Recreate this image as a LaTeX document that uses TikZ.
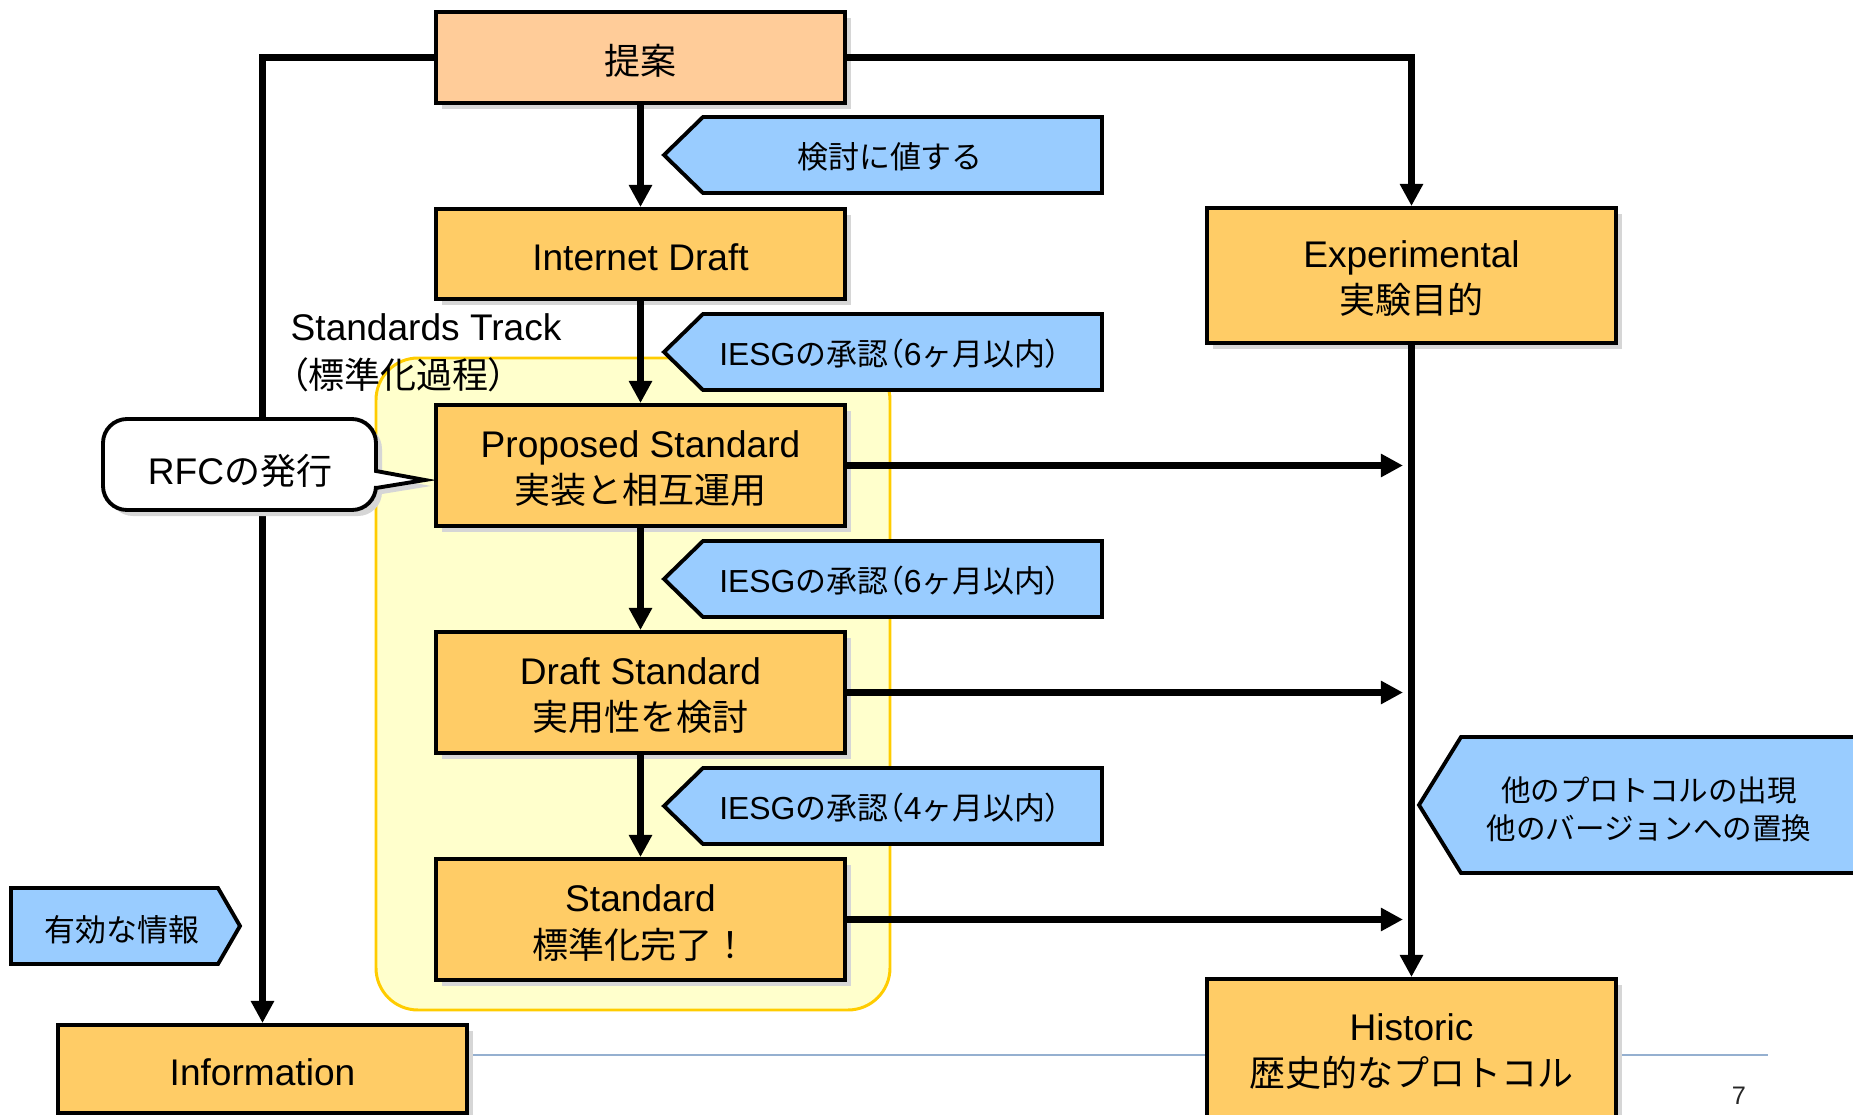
\documentclass[tikz,border=0pt]{standalone}
\usepackage{fontspec}
\setmainfont{Liberation Sans}[Scale=1.03]
\newfontfamily\jp{Noto Sans CJK JP}
\newfontfamily\jpp{Noto Sans CJK JP}[RawFeature=+palt]
\usetikzlibrary{arrows.meta,shadows}

\definecolor{boxor}{HTML}{FFCC66}
\definecolor{peach}{HTML}{FFCC99}
\definecolor{skyb}{HTML}{99CCFF}
\definecolor{paley}{HTML}{FFFFCC}
\definecolor{gold}{HTML}{FFCC00}
\definecolor{rulec}{HTML}{95B0D0}
\definecolor{shade}{HTML}{D6D6D6}

\newcommand{\boxfont}{\fontsize{10.24pt}{13.1pt}\selectfont}
\newcommand{\tagfont}{\fontsize{8.8pt}{10.8pt}\selectfont}
% proportional parentheses
\newcommand{\lp}{{\jpp （}}
\newcommand{\rp}{{\jpp ）}}

\tikzset{
  shade/.style={drop shadow={shadow xshift=0.06cm,shadow yshift=-0.06cm,fill=shade,opacity=1}},
  stagebox/.style={draw=black,line width=1.1pt,fill=boxor,shade,
    minimum width=4.09cm,inner sep=0pt},
  boxtext/.style={align=center,font=\boxfont,inner sep=0pt,yshift=-0.035cm},
  conn/.style={line width=1.85pt,-{Triangle[length=6.3pt,width=6.3pt]}},
  tag/.style={draw=black,line width=1.1pt,fill=skyb,line join=miter},
  tagtext/.style={align=center,font=\tagfont,inner sep=0pt,yshift=-0.02cm},
}

\begin{document}
\begin{tikzpicture}[x=0.01cm,y=-0.01cm]
\useasboundingbox (0,0) rectangle (1853,1115);

% standards track area
\draw[fill=paley,draw=gold,line width=0.85pt,rounded corners=0.42cm]
  (376,358) rectangle (890,1010);
\node[anchor=west,align=left,font=\fontsize{10.24pt}{13.66pt}\selectfont,inner sep=0pt]
  (track) at (290,353) {Standards Track\\\lp{\jp 標準化過程}\rp};

% footer rule and page number
\draw[rulec,line width=0.6pt] (470,1055) -- (1768,1055);
\node[font=\fontsize{7pt}{8pt}\selectfont,text=black!85] (pgno) at (1739,1096) {7};

% stages
\node[stagebox,fill=peach,minimum height=0.91cm] (prop) at (640.5,57.5) {};
\node[stagebox,minimum height=0.90cm] (idraft) at (640.5,254) {};
\node[stagebox,minimum height=1.21cm] (ps) at (640.5,465.5) {};
\node[stagebox,minimum height=1.21cm] (ds) at (640.5,692.5) {};
\node[stagebox,minimum height=1.21cm] (std) at (640.5,919.5) {};
\node[stagebox,minimum height=0.88cm] (info) at (262.5,1069) {};
\node[stagebox,minimum height=1.35cm] (exp) at (1411.5,275.5) {};
\node[stagebox,minimum height=1.38cm] (hist) at (1411.5,1048) {};

\node[boxtext] (propT) at (prop.center) {\jp 提案};
\node[boxtext] (idraftT) at (idraft.center) {Internet Draft};
\node[boxtext] (psT) at (ps.center) {Proposed Standard\\{\jp 実装と相互運用}};
\node[boxtext] (dsT) at (ds.center) {Draft Standard\\{\jp 実用性を検討}};
\node[boxtext] (stdT) at (std.center) {Standard\\{\jp 標準化完了！}};
\node[boxtext] (infoT) at (info.center) {Information};
\node[boxtext] (expT) at (exp.center) {Experimental\\{\jp 実験目的}};
\node[boxtext] (histT) at (hist.center) {Historic\\{\jp 歴史的なプロトコル}};

% connectors
\draw[conn] (prop.west) -| (info.north);
\draw[conn] (prop.east) -| (exp.north);
\draw[conn] (prop.south) -- (idraft.north);
\draw[conn] (idraft.south) -- (ps.north);
\draw[conn] (ps.south) -- (ds.north);
\draw[conn] (ds.south) -- (std.north);
\draw[conn] (exp.south) -- (hist.north);
\coordinate (e1) at (1403,465.5);
\coordinate (e2) at (1403,692.5);
\coordinate (e3) at (1403,919.5);
\draw[conn] (ps.east) -- (e1);
\draw[conn] (ds.east) -- (e2);
\draw[conn] (std.east) -- (e3);

% callout
\draw[draw=black,line width=1.1pt,fill=white,shade]
  (425,480) -- (376,471) [rounded corners=0.24cm] -- (376,419) -- (103,419)
  -- (103,510) -- (376,510) [sharp corners] -- (376,488) -- cycle;
\node[boxtext] (rfc) at (240,467) {RFC{\jp の発行}};

% condition tags
\draw[tag] (664,155) -- (703,117) -- (1102,117) -- (1102,193) -- (703,193) -- cycle;
\node[tagtext] (t0) at (890,155) {\jp 検討に値する};
\draw[tag] (664,352) -- (703,314) -- (1102,314) -- (1102,390) -- (703,390) -- cycle;
\node[tagtext] (t1) at (890,352) {IESG{\jp の承認}\lp 6{\jp ヶ月以内}\rp};
\draw[tag] (664,579) -- (703,541) -- (1102,541) -- (1102,617) -- (703,617) -- cycle;
\node[tagtext] (t2) at (890,579) {IESG{\jp の承認}\lp 6{\jp ヶ月以内}\rp};
\draw[tag] (664,806) -- (703,768) -- (1102,768) -- (1102,844) -- (703,844) -- cycle;
\node[tagtext] (t3) at (890,806) {IESG{\jp の承認}\lp 4{\jp ヶ月以内}\rp};
\draw[tag] (1419,805) -- (1461,737) -- (1870,737) -- (1870,873) -- (1461,873) -- cycle;
\node[tagtext,font=\fontsize{8.4pt}{10.8pt}\selectfont] (t4) at (1649,807)
  {\jp 他のプロトコルの出現\\\jp 他のバージョンへの置換};
\draw[tag] (11,888) -- (218,888) -- (240,926) -- (218,964) -- (11,964) -- cycle;
\node[tagtext] (t5) at (122,928) {\jp 有効な情報};
\end{tikzpicture}
\end{document}
